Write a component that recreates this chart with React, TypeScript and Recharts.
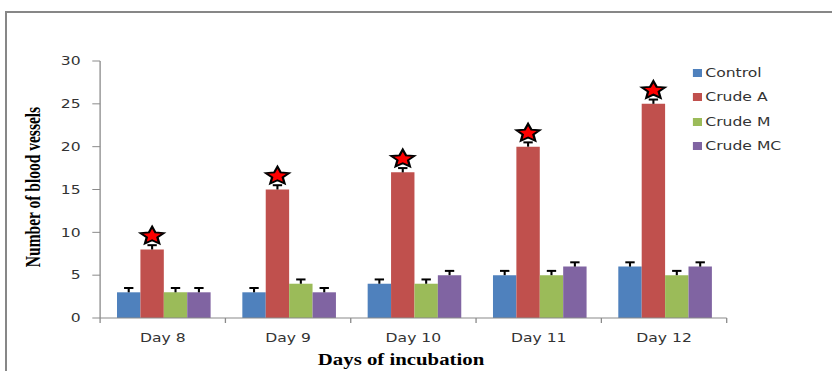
import { BarChart, Bar, XAxis, YAxis, LabelList, Legend } from 'recharts'

const days = ['Day 8', 'Day 9', 'Day 10', 'Day 11', 'Day 12']
const control = [3, 3, 4, 5, 6]
const crudeA = [8, 15, 17, 20, 25]
const crudeM = [3, 4, 4, 5, 5]
const crudeMC = [3, 3, 5, 6, 6]
const controlErr = [0.5, 0.5, 0.5, 0.5, 0.5]
const crudeAErr = [0.5, 0.5, 0.5, 0.5, 0.5]
const crudeMErr = [0.5, 0.5, 0.5, 0.5, 0.5]
const crudeMCErr = [0.5, 0.5, 0.5, 0.5, 0.5]
const yTicks = [0, 5, 10, 15, 20, 25, 30]

const series = [
  { key: 'control', name: 'Control', color: '#4F81BD', values: control, errs: controlErr },
  { key: 'crudeA', name: 'Crude A', color: '#C0504D', values: crudeA, errs: crudeAErr },
  { key: 'crudeM', name: 'Crude M', color: '#9BBB59', values: crudeM, errs: crudeMErr },
  { key: 'crudeMC', name: 'Crude MC', color: '#8064A2', values: crudeMC, errs: crudeMCErr },
]

const data = days.map((day, i) => ({
  day,
  control: control[i],
  crudeA: crudeA[i],
  crudeM: crudeM[i],
  crudeMC: crudeMC[i],
}))

// the source image is stretched sideways, so the chart is drawn narrow and scaled
const SX = 1.3
const W = 640
const H = 371

function starPath(cx: number, cy: number, r: number, ir: number) {
  const pts: string[] = []
  for (let i = 0; i < 10; i++) {
    const rad = i % 2 === 0 ? r : ir
    const a = -Math.PI / 2 + (i * Math.PI) / 5
    pts.push(`${(cx + rad * Math.cos(a)).toFixed(2)},${(cy + rad * Math.sin(a)).toFixed(2)}`)
  }
  return 'M' + pts.join('L') + 'Z'
}

// plus-only error bar (Excel style), scaled from the bar's own pixel height
const makeErr = (values: number[], errs: number[]) => (props: any) => {
  const { x, y, width, height, index } = props
  const v = values[index]
  if (!v) return null
  const cx = Number(x) + Number(width) / 2
  const top = Number(y) - (errs[index] * Number(height)) / v
  return (
    <g>
      <line x1={cx} x2={cx} y1={Number(y)} y2={top} stroke="#000" strokeWidth={1.6} />
      <line x1={cx - 3.6} x2={cx + 3.6} y1={top} y2={top} stroke="#000" strokeWidth={2} />
    </g>
  )
}

const Star = (props: any) => {
  const { x, y, width } = props
  const cx = Number(x) + Number(width) / 2
  const cy = Number(y) - 13.5
  return <path d={starPath(cx, cy, 9.3, 4.3)} fill="#FF0000" stroke="#000" strokeWidth={1.8} strokeLinejoin="miter" />
}

const XTick = (props: any) => {
  const { x, y, payload, index } = props
  const half = payload?.offset ?? 48.2
  return (
    <g>
      <line x1={x - half} x2={x - half} y1={y} y2={y + 5} stroke="#8a8a8a" />
      {index === days.length - 1 && <line x1={x + half} x2={x + half} y1={y} y2={y + 5} stroke="#8a8a8a" />}
      <text x={x} y={y + 24} textAnchor="middle" fontSize={12} fill="#333" fontFamily="DejaVu Sans">
        {payload.value}
      </text>
    </g>
  )
}

const LegendBox = () => (
  <div style={{ fontFamily: 'DejaVu Sans', fontSize: 12, color: '#333' }}>
    {series.map((s) => (
      <div key={s.key} style={{ height: 24.3, display: 'flex', alignItems: 'center' }}>
        <span style={{ width: 7, height: 8, background: s.color, marginRight: 2.5, display: 'inline-block' }} />
        <span>{s.name}</span>
      </div>
    ))}
  </div>
)

export default function App() {
  return (
    <div style={{ position: 'absolute', left: 0, top: 0, width: 832, height: 371, overflow: 'hidden', background: '#fff' }}>
      <div style={{ position: 'absolute', left: 5, top: 11, width: 900, height: 400, borderLeft: '2px solid #878787', borderTop: '2px solid #878787' }} />
      <div style={{ position: 'absolute', left: 0, top: 0, width: W, height: H, transform: `scaleX(${SX})`, transformOrigin: '0 0' }}>
        <BarChart width={W} height={H} data={data} margin={{ top: 61, right: 81, bottom: 0, left: 0 }} barCategoryGap="13.5%" barGap={0}>
          <XAxis
            dataKey="day"
            height={53}
            stroke="#8a8a8a"
            tickLine={false}
            tickSize={0}
            tickMargin={0}
            tick={<XTick />}
            interval={0}
            label={{
              content: () => (
                <text x={308.5} y={365} textAnchor="middle" fontFamily="Liberation Serif" fontWeight="bold" fontSize={16} fill="#000">
                  Days of incubation
                </text>
              ),
            }}
          />
          <YAxis
            width={77}
            domain={[0, 30]}
            ticks={yTicks}
            stroke="#8a8a8a"
            tickSize={6}
            tickMargin={9}
            tick={{ fill: '#333', fontSize: 12, fontFamily: 'DejaVu Sans' }}
            label={{
              content: () => (
                <text
                  x={25.4}
                  y={187}
                  transform="rotate(-90 25.4 187)"
                  textAnchor="middle"
                  dominantBaseline="central"
                  fontFamily="Liberation Serif"
                  fontWeight="bold"
                  fontSize={15.5}
                  fill="#000"
                >
                  Number of blood vessels
                </text>
              ),
            }}
          />
          <Legend layout="vertical" align="center" verticalAlign="middle" content={<LegendBox />} wrapperStyle={{ left: 533, top: 61, width: 100, height: 100 }} />
          {series.map((s) => (
            <Bar key={s.key} dataKey={s.key} name={s.name} fill={s.color} isAnimationActive={false}>
              <LabelList dataKey={s.key} content={makeErr(s.values, s.errs)} />
              {s.key === 'crudeA' && <LabelList dataKey={s.key} content={<Star />} />}
            </Bar>
          ))}
        </BarChart>
      </div>
    </div>
  )
}
